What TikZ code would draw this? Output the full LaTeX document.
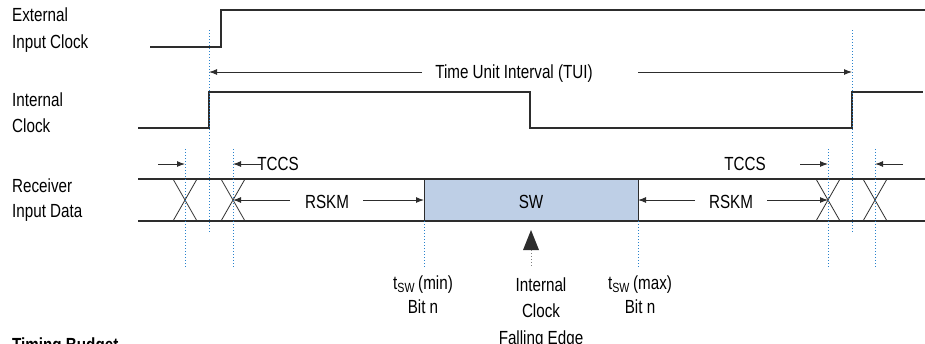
\documentclass[tikz,border=0pt]{standalone}
\usepackage{fontspec}
\setmainfont{Liberation Sans}[FakeStretch=0.8]
\usetikzlibrary{arrows.meta}
\definecolor{sigline}{RGB}{45,45,45}
\definecolor{guideblue}{RGB}{40,130,205}
\definecolor{swfill}{RGB}{190,207,230}
\begin{document}
\begin{tikzpicture}[x=1pt, y=-1pt, font=\fontsize{19}{26.5}\selectfont,
  sig/.style={draw=sigline, line width=1.3pt},
  cross/.style={draw=sigline, line width=0.8pt},
  guide/.style={draw=guideblue, dotted, line width=1pt},
  dimarrow/.style={draw=sigline, line width=1pt, -{Latex[length=8pt,width=6pt]}},
  lbl/.style={anchor=base, inner sep=0pt, align=center},
  rowlbl/.style={anchor=base west, inner sep=0pt, align=left}]
\useasboundingbox (0,0) rectangle (925,343);

% row labels (anchored on the last line)
\node [rowlbl, font=\fontsize{19}{27}\selectfont] (extlbl) at (12,48) {External\\Input Clock};
\node [rowlbl, font=\fontsize{19}{26}\selectfont] (intlbl) at (12,132) {Internal\\Clock};
\node [rowlbl, font=\fontsize{19}{25}\selectfont] (rxlbl) at (12,217) {Receiver\\Input Data};

% clocks
\draw [sig] (150,47) -- (221,47) -- (221,10) -- (925,10);
\draw [sig] (138,128) -- (209,128) -- (209,92) -- (530,92) -- (530,128) -- (852,128) -- (852,92) -- (923,92);

% data eye
\fill [swfill] (424,179) rectangle (638,221);
\draw [sig] (138,179) -- (925,179);
\draw [sig] (138,221) -- (925,221);
\draw [sig, line width=1pt] (424,179) -- (424,221) (638,179) -- (638,221);
\foreach \xc in {185,233,828,875}{
  \draw [cross] (\xc-12,179) -- (\xc+12,221) (\xc+12,179) -- (\xc-12,221);
}
\node [lbl] (sw) at (531,208) {SW};

% guides
\draw [guide] (209,30) -- (209,232);
\draw [guide] (852,30) -- (852,232);
\foreach \xc in {185,233,828,875}{
  \draw [guide] (\xc,149) -- (\xc,267);
}
\draw [guide] (424,221) -- (424,267);
\draw [guide] (638,221) -- (638,267);

% named points
\coordinate (edgeL) at (209,72);
\coordinate (edgeR) at (852,72);
\coordinate (xA) at (185,164);
\coordinate (xB) at (233,164);
\coordinate (xC) at (828,164);
\coordinate (xD) at (875,164);
\coordinate (midB) at (233,200);
\coordinate (midC) at (828,200);
\coordinate (swL) at (424,200);
\coordinate (swR) at (638,200);

% TUI
\node [lbl] (tui) at (514,78) {Time Unit Interval (TUI)};
\draw [dimarrow] (422,72) -- (edgeL);
\draw [dimarrow] (638,72) -- (edgeR);

% TCCS
\node [lbl] (tccsL) at (278,170) {TCCS};
\node [lbl] (tccsR) at (745,170) {TCCS};
\draw [dimarrow] (158,164) -- (xA);
\draw [dimarrow] (262,164) -- (xB);
\draw [dimarrow] (800,164) -- (xC);
\draw [dimarrow] (903,164) -- (xD);

% RSKM
\node [lbl] (rskmL) at (327,208) {RSKM};
\node [lbl] (rskmR) at (731,208) {RSKM};
\draw [dimarrow] (290,200) -- (midB);
\draw [dimarrow] (363,200) -- (swL);
\draw [dimarrow] (695,200) -- (swR);
\draw [dimarrow] (767,200) -- (midC);

% sampling edge
\fill [sigline] (531,230) -- (539,250) -- (523,250) -- cycle;
\draw [draw=gray, dotted, line width=1pt] (531,250) -- (531,267);

% bottom labels (anchored on the last line)
\node [lbl, font=\fontsize{19}{24}\selectfont] (tmin) at (423,313) {t\textsubscript{SW}\,(min)\\Bit n};
\node [lbl, font=\fontsize{19}{24}\selectfont] (tmax) at (640,313) {t\textsubscript{SW}\,(max)\\Bit n};
\node [lbl] (fedge) at (541,344) {Internal\\Clock\\Falling Edge};
\node [rowlbl, font=\fontsize{19}{22}\selectfont\bfseries] (budget) at (12,351) {Timing Budget};
\end{tikzpicture}
\end{document}
